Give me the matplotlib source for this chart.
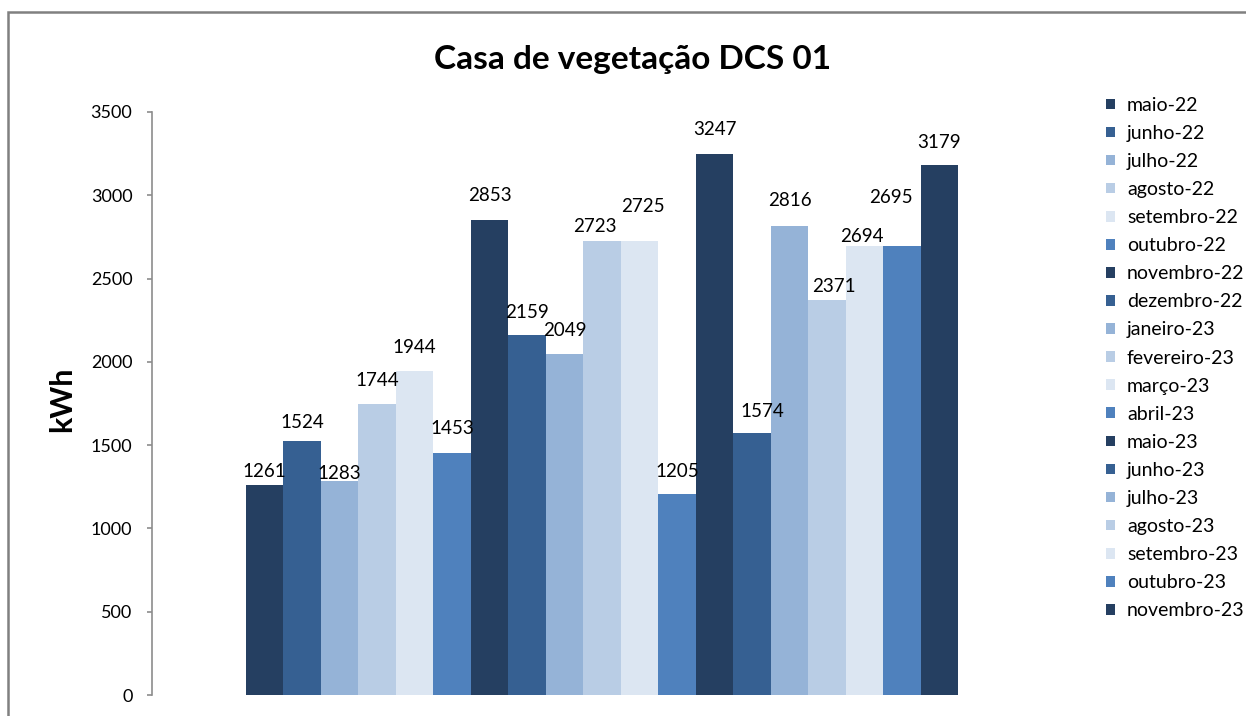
import matplotlib
matplotlib.use("Agg")
import matplotlib.pyplot as plt
from matplotlib.patches import Rectangle

plt.rcParams['font.family'] = ['Lato', 'DejaVu Sans']

meses = ["maio-22", "junho-22", "julho-22", "agosto-22", "setembro-22", "outubro-22",
         "novembro-22", "dezembro-22", "janeiro-23", "fevereiro-23", "março-23", "abril-23",
         "maio-23", "junho-23", "julho-23", "agosto-23", "setembro-23", "outubro-23",
         "novembro-23"]
consumo = [1261, 1524, 1283, 1744, 1944, 1453, 2853, 2159, 2049, 2723, 2725, 1205,
           3247, 1574, 2816, 2371, 2694, 2695, 3179]
paleta = ["#253F61", "#366092", "#95B3D7", "#B9CDE5", "#DCE6F2", "#4F81BD"]

# deslocamento dos rótulos (px) - no original foram arrastados à mão
rot_dx = [0, 0, 0, 0, 0, 0, 0, 0, 0, -7, 3, 0, 0, 10, 0, 7, -3, -11, 0]
rot_dy = [13, 19, 8, 24, 24, 24, 24, 23, 23, 15, 35, 23, 25, 21, 25, 14, 10, 49, 23]

fig = plt.figure(figsize=(12.46, 7.16), dpi=100)
ax = fig.add_axes([152/1246, 1 - 695/716, 900/1246, 583/716])

px = 72 / fig.dpi
for i, (m, v) in enumerate(zip(meses, consumo)):
    ax.bar(i, v, width=1.0, color=paleta[i % len(paleta)], label=m)
    ax.annotate(str(v), (i, v), xytext=(rot_dx[i] * px, rot_dy[i] * px),
                textcoords="offset points", ha="center", va="center", fontsize=13.5)

ax.set_xlim(-3.0, 21.0)
ax.set_ylim(0, 3500)
ax.set_yticks(range(0, 3501, 500))
ax.set_xticks([])
ax.tick_params(axis="y", labelsize=13, length=3.6, width=1.2, color="#8c8c8c", pad=10.5)
for s in ["top", "right", "bottom"]:
    ax.spines[s].set_visible(False)
ax.spines["left"].set_color("#8c8c8c")
ax.spines["left"].set_linewidth(1.2)

fig.text(62/1246, 1 - 399/716, "kWh", rotation=90, ha="center", va="center",
         fontsize=22, fontweight="bold")
fig.text(633/1246, 1 - 60/716, "Casa de vegetação DCS 01", ha="center", va="center",
         fontsize=24, fontweight="bold")

fig.legend(loc="upper left", bbox_to_anchor=(1098/1246, 1 - 89/716), frameon=False,
           fontsize=14, handlelength=0.47, handleheight=0.47, handletextpad=0.62,
           labelspacing=0.57, borderaxespad=0)

# moldura do gráfico
fig.patches.append(Rectangle((8/1246, -0.05), 1.1, 1 - 12/716 + 0.05, transform=fig.transFigure,
                             fill=False, edgecolor="#808080", linewidth=1.8))

fig.savefig("out.png", dpi=100)
